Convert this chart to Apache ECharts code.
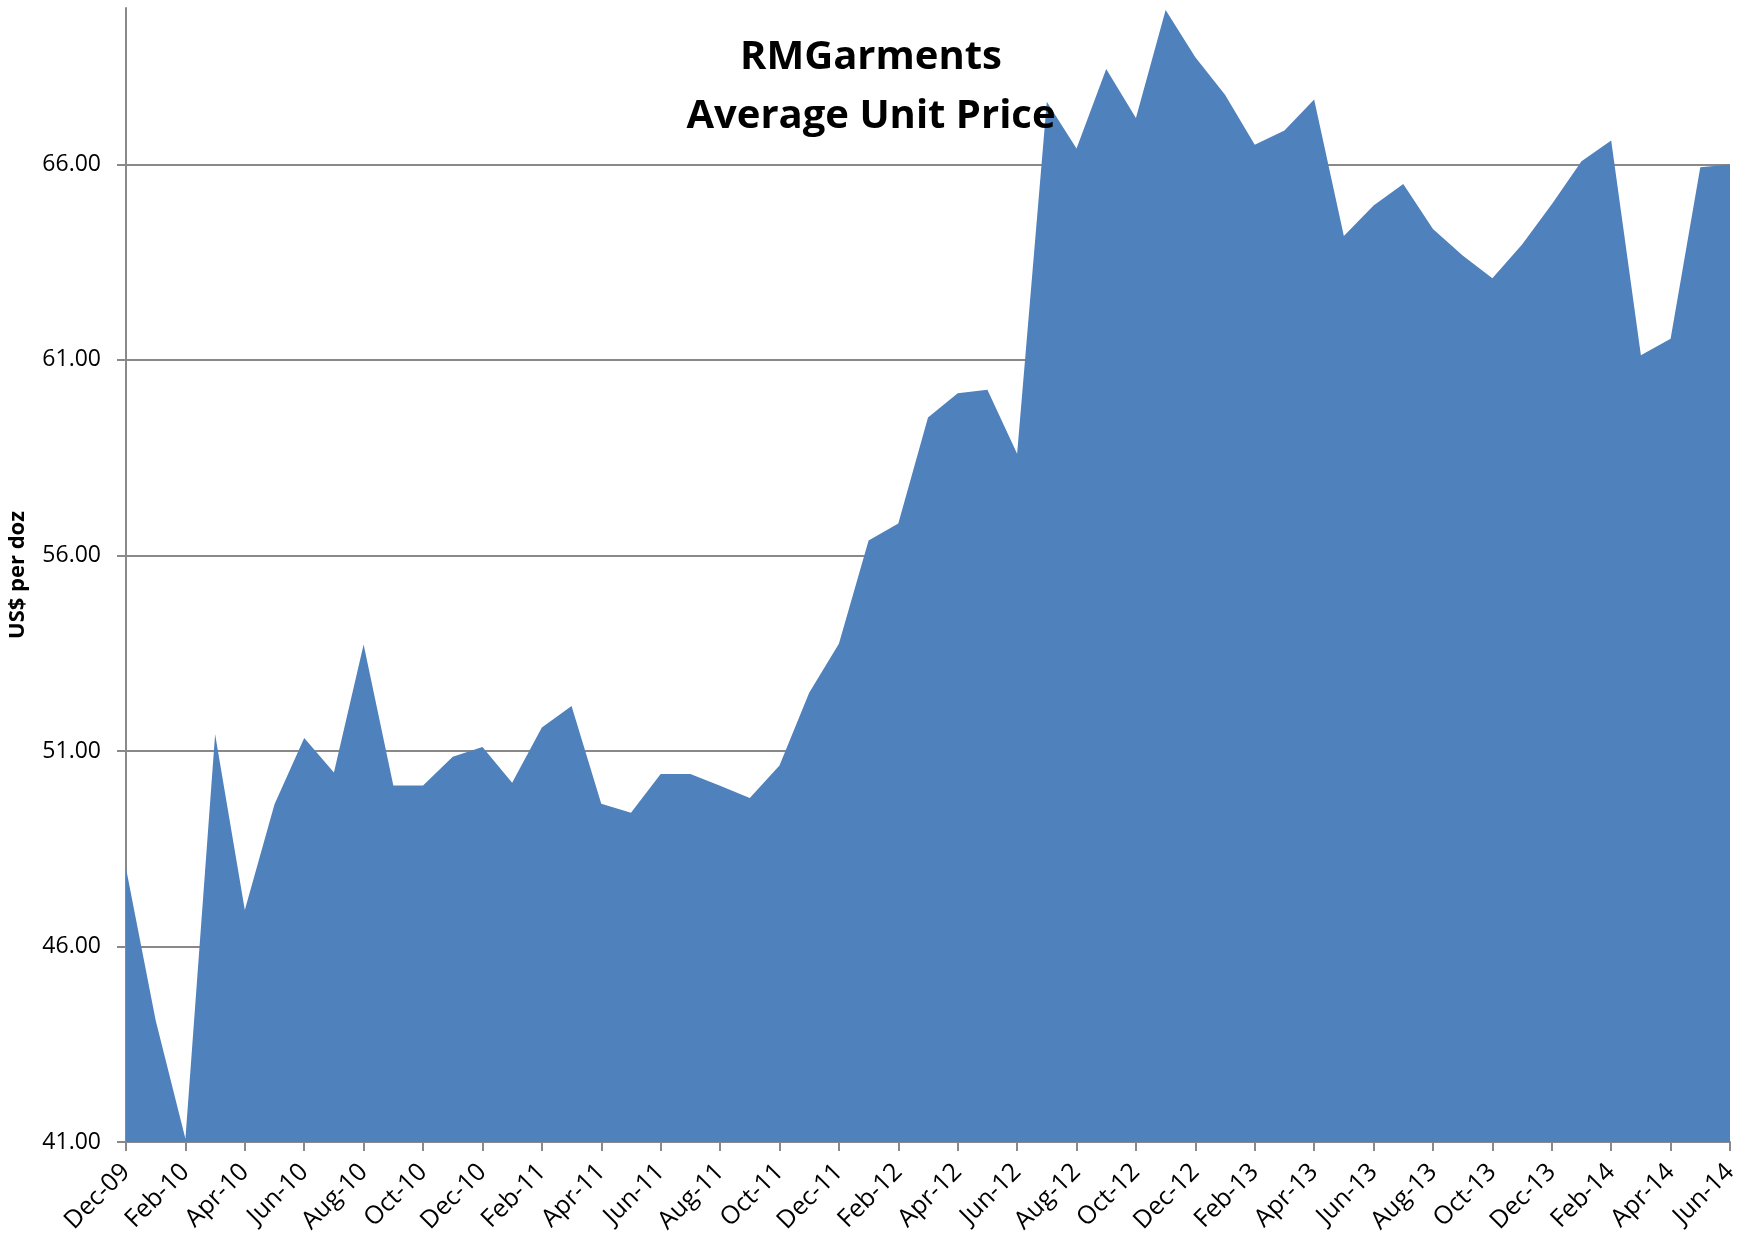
<!DOCTYPE html>
<html>
<head>
<meta charset="utf-8">
<title>RMGarments Average Unit Price</title>
<script src="https://cdn.jsdelivr.net/npm/echarts@6.0.0/dist/echarts.min.js"></script>
<style>
  html, body { margin: 0; padding: 0; background: #fff; }
  #chart { width: 1742px; height: 1239px; }
</style>
</head>
<body>
<div id="chart"></div>
<script>
"use strict"

const months = [
  "Dec-09", "Jan-10", "Feb-10", "Mar-10", "Apr-10", "May-10", "Jun-10", "Jul-10", "Aug-10", "Sep-10", "Oct-10", "Nov-10",
  "Dec-10", "Jan-11", "Feb-11", "Mar-11", "Apr-11", "May-11", "Jun-11", "Jul-11", "Aug-11", "Sep-11", "Oct-11", "Nov-11",
  "Dec-11", "Jan-12", "Feb-12", "Mar-12", "Apr-12", "May-12", "Jun-12", "Jul-12", "Aug-12", "Sep-12", "Oct-12", "Nov-12",
  "Dec-12", "Jan-13", "Feb-13", "Mar-13", "Apr-13", "May-13", "Jun-13", "Jul-13", "Aug-13", "Sep-13", "Oct-13", "Nov-13",
  "Dec-13", "Jan-14", "Feb-14", "Mar-14", "Apr-14", "May-14", "Jun-14",
]

// US$ per dozen
const unitPrice = [
  48.00, 44.11, 41.08, 51.43, 46.93, 49.64, 51.33, 50.45, 53.72, 50.12, 50.12, 50.85,
  51.10, 50.19, 51.60, 52.15, 49.65, 49.42, 50.41, 50.41, 50.11, 49.80, 50.63, 52.49,
  53.74, 56.38, 56.82, 59.53, 60.15, 60.24, 58.60, 67.60, 66.41, 68.44, 67.19, 69.95,
  68.74, 67.78, 66.50, 66.87, 67.66, 64.17, 64.95, 65.50, 64.35, 63.67, 63.09, 63.95,
  64.98, 66.08, 66.61, 61.12, 61.54, 65.93, 66.00,
]

const yTicks = [41, 46, 51, 56, 61, 66]

const font = "'Open Sans', Lato, sans-serif"
const gray = "#898989"

const chart = echarts.init(document.getElementById("chart"), null, { renderer: "canvas" })

chart.setOption({
  animation: false,
  title: {
    text: "RMGarments\nAverage Unit Price",
    left: "center",
    top: 23,
    textStyle: {
      fontFamily: font,
      fontWeight: "bold",
      fontSize: 40,
      lineHeight: 59,
      color: "#000",
    },
  },
  grid: { left: 126, right: 12, top: 8, bottom: 97, outerBoundsMode: "none" },
  xAxis: {
    type: "category",
    boundaryGap: false,
    data: months,
    axisLine: { lineStyle: { color: gray, width: 2 } },
    axisTick: { interval: 1, length: 9, lineStyle: { color: gray, width: 2 } },
    axisLabel: {
      interval: 1,
      rotate: 45,
      margin: 26,
      fontFamily: font,
      fontSize: 25,
      color: "#000",
    },
    splitLine: { show: false },
  },
  yAxis: {
    type: "value",
    min: 41,
    max: 70,
    interval: 5,
    name: "US$ per doz",
    nameLocation: "middle",
    nameRotate: 90,
    nameGap: 97,
    nameTextStyle: { fontFamily: font, fontWeight: "bold", fontSize: 22, color: "#000" },
    axisLine: { show: true, lineStyle: { color: gray, width: 2 } },
    axisTick: { show: true, length: 9, lineStyle: { color: gray, width: 2 } },
    axisLabel: {
      margin: 25,
      fontFamily: font,
      fontSize: 23,
      color: "#000",
      showMaxLabel: false,
      formatter: (v) => (yTicks.includes(v) ? v.toFixed(2) : ""),
    },
    splitLine: { show: true, showMaxLine: false, lineStyle: { color: gray, width: 2 } },
  },
  series: [
    {
      type: "line",
      data: unitPrice,
      symbol: "none",
      lineStyle: { width: 0 },
      areaStyle: { color: "#4F81BD", opacity: 1, origin: "start" },
    },
  ],
})
</script>
</body>
</html>
